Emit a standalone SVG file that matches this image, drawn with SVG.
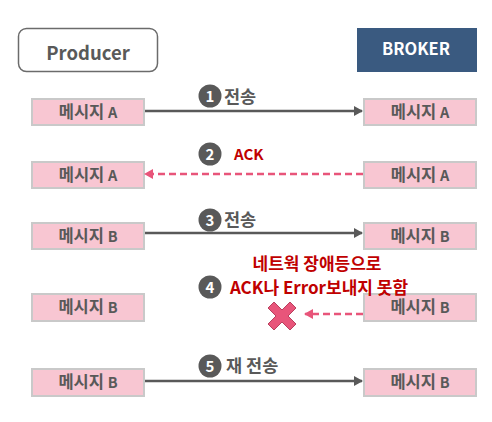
<svg xmlns="http://www.w3.org/2000/svg" width="492" height="422" viewBox="0 0 492 422">
<style>
text{font-family:"Noto Sans CJK KR","Noto Sans",sans-serif;font-weight:bold}
.msg{fill:#F8C6D2;stroke:#C9C9C9;stroke-width:2}
.mt{fill:#595959;font-size:16.5px;text-anchor:middle}
.mt tspan.s{font-size:14.5px}
.num{fill:#595959}
.nt{fill:#fff;font-size:15px;text-anchor:middle}
.lbl{fill:#595959;font-size:17.5px}
.red{fill:#C00000}
.solid{stroke:#595959;stroke-width:2.5;fill:none}
.dash{stroke:#E8557A;stroke-width:2.5;stroke-dasharray:7 4;fill:none}
</style>
<defs>
<marker id="ah" markerWidth="10" markerHeight="10" refX="8" refY="5" orient="auto" markerUnits="userSpaceOnUse">
<path d="M0,0 L9,5 L0,10 z" fill="#595959"/>
</marker>
<marker id="ahp" markerWidth="10" markerHeight="10" refX="8" refY="5" orient="auto" markerUnits="userSpaceOnUse">
<path d="M0,0 L9,5 L0,10 z" fill="#E8557A"/>
</marker>
</defs>
<rect width="492" height="422" fill="#fff"/>

<g id="producer">
<rect x="18.5" y="28.5" width="139" height="43" rx="8" fill="#fff" stroke="#6b6b6b" stroke-width="1.5"/>
<text x="88" y="60" fill="#595959" font-size="18.5" text-anchor="middle">Producer</text>
</g>
<g id="broker">
<rect x="357" y="28" width="120" height="44" fill="#3A5A80"/>
<text x="416" y="55" fill="#fff" font-size="16.5" text-anchor="middle">BROKER</text>
</g>

<g id="pA1"><rect class="msg" x="32" y="99" width="112" height="26"/><text class="mt" x="88" y="118">메시지 <tspan class="s">A</tspan></text></g>
<g id="bA1"><rect class="msg" x="364" y="99" width="112" height="26"/><text class="mt" x="420" y="118">메시지 <tspan class="s">A</tspan></text></g>
<g id="pA2"><rect class="msg" x="32" y="162" width="112" height="26"/><text class="mt" x="88" y="181">메시지 <tspan class="s">A</tspan></text></g>
<g id="bA2"><rect class="msg" x="364" y="162" width="112" height="26"/><text class="mt" x="420" y="181">메시지 <tspan class="s">A</tspan></text></g>
<g id="pB3"><rect class="msg" x="32" y="223" width="112" height="26"/><text class="mt" x="88" y="242">메시지 <tspan class="s">B</tspan></text></g>
<g id="bB3"><rect class="msg" x="364" y="223" width="112" height="26"/><text class="mt" x="420" y="242">메시지 <tspan class="s">B</tspan></text></g>
<g id="pB4"><rect class="msg" x="32" y="294" width="112" height="27"/><text class="mt" x="88" y="313">메시지 <tspan class="s">B</tspan></text></g>
<g id="bB4"><rect class="msg" x="364" y="294" width="112" height="27"/><text class="mt" x="420" y="313">메시지 <tspan class="s">B</tspan></text></g>
<g id="pB5"><rect class="msg" x="32" y="369" width="112" height="27"/><text class="mt" x="88" y="388">메시지 <tspan class="s">B</tspan></text></g>
<g id="bB5"><rect class="msg" x="364" y="369" width="112" height="27"/><text class="mt" x="420" y="388">메시지 <tspan class="s">B</tspan></text></g>

<g id="connectors">
<line class="solid" x1="145" y1="111" x2="362" y2="111" marker-end="url(#ah)"/>
<line class="dash" x1="363" y1="174" x2="145" y2="174" marker-end="url(#ahp)"/>
<line class="solid" x1="145" y1="233" x2="362" y2="233" marker-end="url(#ah)"/>
<line class="dash" x1="363" y1="314" x2="305" y2="314" marker-end="url(#ahp)"/>
<line class="solid" x1="145" y1="381" x2="362" y2="381" marker-end="url(#ah)"/>
</g>

<g id="labels">
<circle class="num" cx="210" cy="96" r="11.5"/><text class="nt" x="210" y="101.5">1</text>
<text class="lbl" x="224" y="103">전송</text>
<circle class="num" cx="210" cy="154" r="11.5"/><text class="nt" x="210" y="159.5">2</text>
<text class="red" x="234" y="160" font-size="15">ACK</text>
<circle class="num" cx="210" cy="220" r="11.5"/><text class="nt" x="210" y="225.5">3</text>
<text class="lbl" x="224" y="226">전송</text>
<circle class="num" cx="210" cy="287" r="11.5"/><text class="nt" x="210" y="292.5">4</text>
<text class="red" x="317" y="270" font-size="17" text-anchor="middle">네트웍 장애등으로</text>
<text class="red" x="319" y="294" font-size="17" text-anchor="middle">ACK나 Error보내지 못함</text>
<circle class="num" cx="210" cy="366" r="11.5"/><text class="nt" x="210" y="371.5">5</text>
<text class="lbl" x="226" y="372">재 전송</text>
</g>

<g id="xmark">
<path d="M274,302 L282,310 L290,302 L296,308 L288,316 L296,324 L290,330 L282,322 L274,330 L268,324 L276,316 L268,308 Z" fill="#E8557A" stroke="#B8405E" stroke-width="1"/>
</g>
</svg>
